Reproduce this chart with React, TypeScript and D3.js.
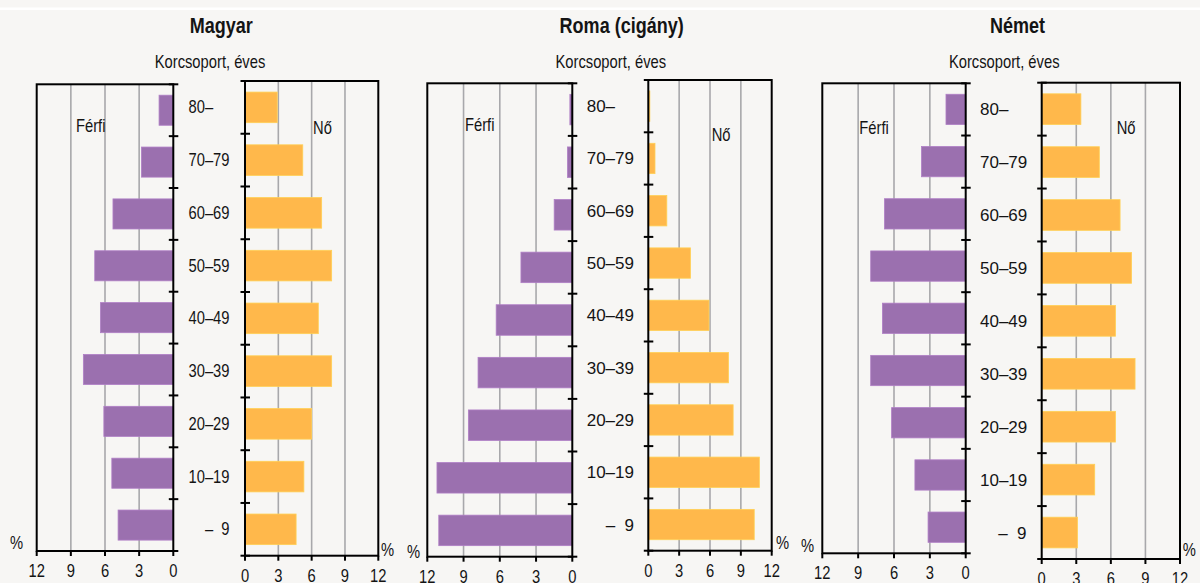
import * as React from "react";
import * as d3 from "d3";

// age groups, top to bottom
const ageGroups = ["80–", "70–79", "60–69", "50–59", "40–49", "30–39", "20–29", "10–19", "–  9"];

// percentage shares
const magyarFerfi = [1.25, 2.8, 5.3, 6.9, 6.4, 7.9, 6.1, 5.4, 4.85];
const magyarNo = [2.9, 5.2, 6.9, 7.8, 6.6, 7.8, 6.0, 5.3, 4.6];
const romaFerfi = [0.2, 0.4, 1.5, 4.25, 6.3, 7.8, 8.6, 11.2, 11.05];
const romaNo = [0.15, 0.65, 1.8, 4.1, 5.9, 7.8, 8.25, 10.8, 10.3];
const nemetFerfi = [1.65, 3.7, 6.8, 7.95, 6.97, 7.95, 6.2, 4.25, 3.15];
const nemetNo = [3.4, 5.0, 6.8, 7.8, 6.4, 8.1, 6.4, 4.6, 3.1];

const xTicks = [0, 3, 6, 9, 12];
const titles = ["Magyar", "Roma (cigány)", "Német"];
const subTitle = "Korcsoport, éves";

const PURPLE = "#9b70af";
const ORANGE = "#ffb84b";
const GRID = "#a8a8ab";
const BG = "#f7f6f4";
const FONT = "'Liberation Sans', Arial, sans-serif";

// scanned layout differs a bit from panel to panel
const layouts = [
  {
    left: { x0: 36.7, x1: 173.3, y0: 84.3, y1: 551 },
    right: { x0: 245, x1: 378.3, y0: 81, y1: 555.7 },
    labelX: 188.5, labelRight: 229.5, narrowLabels: true,
    titleX: 221.3, subX: 210,
    ferfi: [76, 132], no: [313, 134],
    pctL: [10, 549], pctR: [381, 556],
  },
  {
    left: { x0: 427.3, x1: 572.3, y0: 83.3, y1: 556.7 },
    right: { x0: 648.3, x1: 771.7, y0: 80, y1: 550.7 },
    labelX: 586.7, labelRight: 634, narrowLabels: false,
    titleX: 621.7, subX: 610.8,
    ferfi: [465, 131], no: [711.7, 141],
    pctL: [407, 558], pctR: [776, 549],
  },
  {
    left: { x0: 822.3, x1: 965.7, y0: 83.3, y1: 553.3 },
    right: { x0: 1041.7, x1: 1180, y0: 82.7, y1: 559 },
    labelX: 980, labelRight: 1026.5, narrowLabels: false,
    titleX: 1017.5, subX: 1004.2,
    ferfi: [859.3, 134], no: [1116.7, 134],
    pctL: [801, 552], pctR: [1182.7, 556],
  },
];

const series = [
  [magyarFerfi, magyarNo],
  [romaFerfi, romaNo],
  [nemetFerfi, nemetNo],
];

function NText({ x, y, size, anchor = "start", weight = "normal", children }: any) {
  return (
    <text
      transform={`translate(${x},${y}) scale(0.82,1)`}
      fontSize={size}
      fontWeight={weight}
      textAnchor={anchor}
      fontFamily={FONT}
      fill="#141414"
      style={{ whiteSpace: "pre" }}
    >
      {children}
    </text>
  );
}

function HalfPlot({ box, values, side, color }: any) {
  const { x0, x1, y0, y1 } = box;
  const x = d3.scaleLinear().domain([0, 12]).range(side === "left" ? [x1, x0] : [x0, x1]);
  const y = d3.scaleBand<string>().domain(ageGroups).range([y0, y1]).paddingInner(0.42).paddingOuter(0.21);
  const step = (y1 - y0) / ageGroups.length;
  const zeroX = x(0);
  return (
    <g>
      {xTicks.filter((t) => t > 0 && t < 12).map((t) => (
        <line key={t} x1={x(t)} x2={x(t)} y1={y0} y2={y1} stroke={GRID} strokeWidth={1.6} />
      ))}
      {values.map((v: number, i: number) => {
        const a = x(0), b = x(v);
        return (
          <rect
            key={i}
            x={Math.min(a, b)}
            y={y(ageGroups[i])}
            width={Math.abs(b - a)}
            height={y.bandwidth()}
            fill={color}
            stroke={d3.color(color)!.brighter(0.35).toString()}
            strokeWidth={0.8}
          />
        );
      })}
      <rect x={x0} y={y0} width={x1 - x0} height={y1 - y0} fill="none" stroke="#000" strokeWidth={2} />
      {xTicks.map((t) => (
        <line key={t} x1={x(t)} x2={x(t)} y1={y1} y2={y1 + 5} stroke="#000" strokeWidth={2} />
      ))}
      {d3.range(ageGroups.length + 1).map((i) => (
        <line key={i} x1={zeroX - 4.5} x2={zeroX + 5} y1={y0 + i * step} y2={y0 + i * step} stroke="#000" strokeWidth={2} />
      ))}
      {xTicks.map((t) => (
        <NText key={t} x={x(t)} y={y1 + 26} size={18} anchor="middle">{t}</NText>
      ))}
    </g>
  );
}

function Panel({ idx }: { idx: number }) {
  const L = layouts[idx];
  const [ferfi, no] = series[idx];
  const labelY = d3.scaleBand<string>().domain(ageGroups).range([L.right.y0, L.right.y1]);
  return (
    <g>
      <NText x={L.titleX} y={33} size={22} anchor="middle" weight="bold">{titles[idx]}</NText>
      <NText x={L.subX} y={68} size={18} anchor="middle">{subTitle}</NText>
      <HalfPlot box={L.left} values={ferfi} side="left" color={PURPLE} />
      <HalfPlot box={L.right} values={no} side="right" color={ORANGE} />
      {ageGroups.map((g, i) => {
        const cy = labelY(g)! + labelY.bandwidth() / 2 + 6;
        const last = i === ageGroups.length - 1;
        const ax = last ? L.labelRight : L.labelX;
        const anchor = last ? "end" : "start";
        return L.narrowLabels ? (
          <NText key={g} x={ax} y={cy} size={18} anchor={anchor}>{g}</NText>
        ) : (
          <text key={g} x={ax} y={cy} fontSize={17} textAnchor={anchor} fontFamily={FONT} fill="#141414" style={{ whiteSpace: "pre" }}>
            {g}
          </text>
        );
      })}
      <NText x={L.ferfi[0]} y={L.ferfi[1]} size={18}>Férfi</NText>
      <NText x={L.no[0]} y={L.no[1]} size={18}>Nő</NText>
      <NText x={L.pctL[0]} y={L.pctL[1]} size={18}>%</NText>
      <NText x={L.pctR[0]} y={L.pctR[1]} size={18}>%</NText>
    </g>
  );
}

export default function App() {
  return (
    <svg
      width={1200}
      height={583}
      style={{ position: "absolute", left: 0, top: 0, display: "block" }}
    >
      <rect width={1200} height={583} fill={BG} />
      <rect x={0} y={7.5} width={1200} height={2.5} fill="#ffffff" />
      {titles.map((_, i) => (
        <Panel key={i} idx={i} />
      ))}
    </svg>
  );
}
